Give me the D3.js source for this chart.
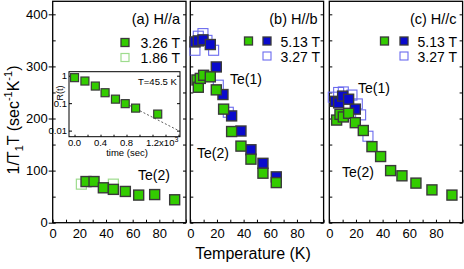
<!DOCTYPE html>
<html>
<head>
<meta charset="utf-8">
<script src="https://cdn.jsdelivr.net/npm/d3@7"></script>
<style>
  body { margin: 0; background: #fff; }
  text { font-family: "Liberation Sans", Arial, Helvetica, sans-serif; fill: #000; }
</style>
</head>
<body>
<script>
// temperature (K), 1/T1T (sec^-1 K^-1)
const a326 = [[25, 79], [31, 79], [38, 67], [45.5, 64], [54.5, 60], [64.5, 53], [76.5, 54], [91.5, 44]];
const a186 = [[21.5, 74], [45.5, 74]];

const b513te2 = [[5, 274], [6, 260], [7.5, 277], [10, 283], [15, 280], [19.5, 255], [25, 218],
                 [31, 175], [38, 147], [45.5, 122], [54.5, 95], [64.5, 77]];
const b513te1 = [[3.5, 347], [6, 349], [9.5, 351], [15, 342], [19.5, 299], [24.5, 246],
                 [31, 205], [38, 176], [45.5, 140], [54.5, 114], [64.5, 88]];
const b327 = [[3.5, 331], [6, 358], [9.5, 363], [12.5, 350], [17.5, 331], [21, 264], [28.5, 212]];

const c513te2 = [[5.5, 197], [8, 208], [10.5, 203], [14.5, 210], [19.5, 192], [25.5, 177], [32, 146],
                 [38.5, 127], [46, 100], [54.5, 90], [65, 76], [77, 63], [92, 53]];
const c513te1 = [[4.5, 233], [7, 230], [10, 243], [14.5, 237], [19.5, 218]];
const c327 = [[3, 241], [7, 250], [10.5, 251], [17, 245], [21, 228], [23.5, 207], [29, 166]];

// inset: recovery R(t) at T = 45.5 K, time in units of 10^3 sec
const insetTime = [0, 0.16, 0.32, 0.47, 0.63, 0.78, 0.94, 1.28];
const insetR = [0.85, 0.64, 0.42, 0.24, 0.14, 0.096, 0.066, 0.04];
const insetFit = [[0.35, 0.33], [1.62, 0.0095]];

const yTicks = [0, 100, 200, 300, 400];
const xTicks = [0, 20, 40, 60, 80];

const width = 464, height = 269;
const GREEN = "#33cc00", BLUE = "#0a0acc", EDGE = "#3a3a3a";

const svg = d3.select("body").append("svg")
    .attr("width", width)
    .attr("height", height);

const y = d3.scaleLinear().domain([0, 425]).range([222.7, 1.3]);

const panels = [
  {left: 52.7, right: 186, title: "(a) H//a", labels: true},
  {left: 190.3, right: 323.6, title: "(b) H//b"},
  {left: 329.3, right: 462.6, title: "(c) H//c"}
];
panels.forEach(p => p.x = d3.scaleLinear().domain([0, 100]).range([p.left, p.right]));

function squares(g, data, x, yy, opt) {
  const s = opt.size;
  g.append("g").selectAll("rect")
    .data(data)
    .join("rect")
      .attr("x", d => x(d[0]) - s / 2)
      .attr("y", d => yy(d[1]) - s / 2)
      .attr("width", s)
      .attr("height", s)
      .attr("fill", opt.fill)
      .attr("stroke", opt.stroke)
      .attr("stroke-width", opt.sw || 1.4);
}

panels.forEach(p => {
  const g = svg.append("g");
  const x = p.x;

  // bottom ticks, inward
  g.append("g")
      .attr("transform", `translate(0,${y(0)})`)
      .call(d3.axisBottom(x).tickValues(d3.range(0, 101, 10)).tickSize(-3).tickFormat(""))
      .call(g => g.select(".domain").remove());
  g.append("g")
      .attr("transform", `translate(0,${y(0)})`)
      .call(d3.axisBottom(x).tickValues(xTicks).tickSize(0).tickPadding(6))
      .call(g => g.select(".domain").remove())
      .call(g => g.selectAll("text").attr("font-size", 13).attr("font-family", "Liberation Sans, Arial, sans-serif"));

  // left and right ticks every 50, inward
  g.append("g")
      .attr("transform", `translate(${p.left},0)`)
      .call(d3.axisLeft(y).tickValues(d3.range(0, 401, 50)).tickSize(-3).tickFormat(""))
      .call(g => g.select(".domain").remove());
  g.append("g")
      .attr("transform", `translate(${p.right},0)`)
      .call(d3.axisRight(y).tickValues(d3.range(0, 401, 50)).tickSize(-3).tickFormat(""))
      .call(g => g.select(".domain").remove());

  if (p.labels) {
    g.append("g")
        .attr("transform", `translate(${p.left},0)`)
        .call(d3.axisLeft(y).tickValues(yTicks).tickSize(4).tickPadding(1))
        .call(g => g.select(".domain").remove())
        .call(g => g.selectAll("text").attr("font-size", 13).attr("font-family", "Liberation Sans, Arial, sans-serif"));
  }

  g.append("rect")
      .attr("x", p.left).attr("y", y.range()[1])
      .attr("width", p.right - p.left)
      .attr("height", y(0) - y.range()[1])
      .attr("fill", "none")
      .attr("stroke", "#000")
      .attr("stroke-width", 1.3);

  g.append("text")
      .attr("x", p.right - 6).attr("y", 24)
      .attr("text-anchor", "end")
      .attr("font-size", 14.5)
      .text(p.title);
});

// axis titles
svg.append("text")
    .attr("x", 253).attr("y", 259)
    .attr("text-anchor", "middle")
    .attr("font-size", 16)
    .text("Temperature (K)");

const ylab = svg.append("text")
    .attr("transform", "translate(19,120) rotate(-90)")
    .attr("text-anchor", "middle")
    .attr("font-size", 16);
ylab.append("tspan").text("1/T");
ylab.append("tspan").attr("font-size", 11).attr("dy", 4).text("1");
ylab.append("tspan").attr("dy", -4).text("T (sec");
ylab.append("tspan").attr("font-size", 11).attr("dy", -7).text("-1");
ylab.append("tspan").attr("dy", 7).text("K");
ylab.append("tspan").attr("font-size", 11).attr("dy", -7).text("-1");
ylab.append("tspan").attr("dy", 7).text(")");

// ---------- panel (a)
const pa = svg.append("g"), xa = panels[0].x;
squares(pa, a186, xa, y, {size: 10, fill: "none", stroke: "#9edc8e", sw: 1.2});
squares(pa, a326, xa, y, {size: 10, fill: GREEN, stroke: EDGE});

pa.append("text").attr("x", 138).attr("y", 180).attr("font-size", 14).text("Te(2)");

// legend (a)
pa.append("rect").attr("x", 121).attr("y", 38.5).attr("width", 8).attr("height", 8)
    .attr("fill", GREEN).attr("stroke", EDGE).attr("stroke-width", 1.3);
pa.append("rect").attr("x", 121).attr("y", 53.5).attr("width", 8).attr("height", 8)
    .attr("fill", "none").attr("stroke", "#9edc8e").attr("stroke-width", 1.2);
pa.append("text").attr("x", 180).attr("y", 48).attr("text-anchor", "end").attr("font-size", 14).text("3.26 T");
pa.append("text").attr("x", 180).attr("y", 63).attr("text-anchor", "end").attr("font-size", 14).text("1.86 T");

// inset
const ix = d3.scaleLinear().domain([-0.085, 1.623]).range([69, 180]);
const iy = d3.scaleLog().domain([0.006, 1.4]).range([136.7, 71.7]);
const ins = svg.append("g");
ins.append("rect")
    .attr("x", 69).attr("y", 71.7).attr("width", 111).attr("height", 65)
    .attr("fill", "#fff").attr("stroke", "#000").attr("stroke-width", 1);
ins.append("g")
    .attr("transform", "translate(0,136.7)")
    .call(d3.axisBottom(ix).tickValues([0, 0.2, 0.4, 0.6, 0.8, 1.0, 1.2, 1.4, 1.6]).tickSize(-2).tickFormat(""))
    .call(g => g.select(".domain").remove());
ins.append("g")
    .attr("transform", "translate(69,0)")
    .call(d3.axisLeft(iy).tickValues([0.01, 0.1, 1]).tickSize(-3).tickFormat(""))
    .call(g => g.select(".domain").remove());
ins.append("g")
    .attr("transform", "translate(180,0)")
    .call(d3.axisRight(iy).tickValues([0.01, 0.1, 1]).tickSize(-3).tickFormat(""))
    .call(g => g.select(".domain").remove());
ins.selectAll("text.ity")
  .data([[1, "1"], [0.1, "0.1"], [0.01, "0.01"]])
  .join("text")
    .attr("x", 67).attr("y", d => iy(d[0]) + 3.5)
    .attr("text-anchor", "end").attr("font-size", 9.5)
    .text(d => d[1]);
ins.selectAll("text.itx")
  .data([[0, "0.0"], [0.4, "0.4"], [0.8, "0.8"]])
  .join("text")
    .attr("x", d => ix(d[0])).attr("y", 146)
    .attr("text-anchor", "middle").attr("font-size", 9.5)
    .text(d => d[1]);
const t12 = ins.append("text").attr("x", ix(1.2) - 6.6).attr("y", 146).attr("font-size", 9.5);
t12.append("tspan").text("1.2x10");
t12.append("tspan").attr("font-size", 7).attr("dy", -4).text("3");
ins.append("text").attr("x", 127).attr("y", 156).attr("text-anchor", "middle").attr("font-size", 9.5).text("time (sec)");
ins.append("text").attr("transform", "translate(63,93) rotate(-90)").attr("text-anchor", "middle")
    .attr("font-size", 9).text("R(t)");
ins.append("text").attr("x", 138).attr("y", 85).attr("font-size", 9.5).text("T=45.5 K");
ins.append("path")
    .datum(insetFit)
    .attr("d", d3.line().x(d => ix(d[0])).y(d => iy(d[1])))
    .attr("fill", "none").attr("stroke", "#333").attr("stroke-width", 0.8)
    .attr("stroke-dasharray", "2,2");
squares(ins, insetTime.map((t, i) => [t, insetR[i]]), ix, iy, {size: 8, fill: GREEN, stroke: EDGE, sw: 1.2});

// ---------- panel (b)
const pb = svg.append("g"), xb = panels[1].x;
squares(pb, b327, xb, y, {size: 10, fill: "none", stroke: "#6b6bee", sw: 1.1});
squares(pb, b513te1, xb, y, {size: 10, fill: BLUE, stroke: EDGE});
squares(pb, b513te2, xb, y, {size: 10, fill: GREEN, stroke: EDGE});
pb.append("text").attr("x", 230).attr("y", 84).attr("font-size", 14).text("Te(1)");
pb.append("text").attr("x", 197).attr("y", 158).attr("font-size", 14).text("Te(2)");

// ---------- panel (c)
const pc = svg.append("g"), xc = panels[2].x;
squares(pc, c327, xc, y, {size: 10, fill: "none", stroke: "#6b6bee", sw: 1.1});
squares(pc, c513te1, xc, y, {size: 10, fill: BLUE, stroke: EDGE});
squares(pc, c513te2, xc, y, {size: 10, fill: GREEN, stroke: EDGE});
pc.append("text").attr("x", 358).attr("y", 93).attr("font-size", 14).text("Te(1)");
pc.append("text").attr("x", 342).attr("y", 177).attr("font-size", 14).text("Te(2)");

// legends (b), (c)
[[pb, 244.5, 263, 320], [pc, 380.5, 400, 457]].forEach(([g, gx, bx, tx]) => {
  g.append("rect").attr("x", gx).attr("y", 37).attr("width", 8).attr("height", 8)
      .attr("fill", GREEN).attr("stroke", EDGE).attr("stroke-width", 1.3);
  g.append("rect").attr("x", bx).attr("y", 37).attr("width", 8).attr("height", 8)
      .attr("fill", BLUE).attr("stroke", EDGE).attr("stroke-width", 1.3);
  g.append("rect").attr("x", bx).attr("y", 52).attr("width", 8).attr("height", 8)
      .attr("fill", "none").attr("stroke", "#6b6bee").attr("stroke-width", 1.1);
  g.append("text").attr("x", tx).attr("y", 47).attr("text-anchor", "end").attr("font-size", 14).text("5.13 T");
  g.append("text").attr("x", tx).attr("y", 62).attr("text-anchor", "end").attr("font-size", 14).text("3.27 T");
});
</script>
</body>
</html>
